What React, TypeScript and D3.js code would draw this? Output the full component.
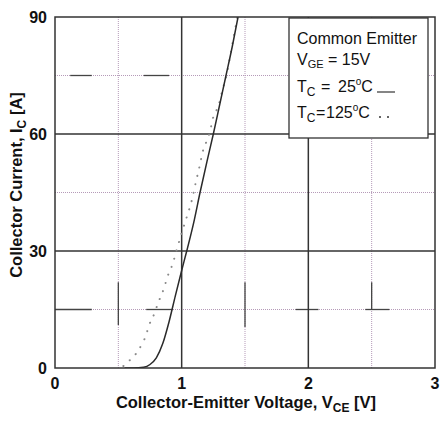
import React from "react";
import * as d3 from "d3";

const xTicks = [0, 1, 2, 3];
const yTicks = [0, 30, 60, 90];
const xMinor = [0.5, 1.5, 2.5];
const yMinor = [15, 45, 75];

// Tc = 25°C (solid)
const v25 = [0.55, 0.62, 0.7, 0.75, 0.8, 0.85, 0.9, 0.95, 1.0, 1.04, 1.1, 1.145, 1.2, 1.25, 1.3, 1.35, 1.4, 1.445];
const i25 = [0, 0, 0.2, 0.9, 2.6, 6.2, 11.8, 18.5, 25, 30, 38, 45, 53, 60, 67.5, 75, 82.5, 90];

// Tc = 125°C (dotted)
const v125 = [0.54, 0.6, 0.65, 0.69, 0.72, 0.74, 0.77, 0.82, 0.85, 0.87, 0.89, 0.92, 0.94, 0.96, 1.0, 1.04, 1.08, 1.11, 1.14, 1.17, 1.2, 1.22, 1.25, 1.29, 1.32, 1.36, 1.4, 1.44];
const i125 = [0.5, 2.3, 4.1, 6.4, 8.5, 10.8, 12.8, 17.2, 19.5, 21.5, 23.6, 25.9, 27.9, 30.2, 34.6, 38.7, 43, 47.4, 51.5, 55.9, 58.4, 60.2, 64.4, 67.2, 71, 76, 83, 90];

// short solid accents on the dotted grid (data units)
const hAccentY = [15, 15, 15, 15, 75, 75];
const hAccentX0 = [0.0, 0.72, 1.9, 2.45, 0.12, 0.7];
const hAccentX1 = [0.29, 0.93, 2.08, 2.64, 0.29, 0.9];
const vAccentX = [0.5, 1.5, 2.5];
const vAccentY0 = [11, 10.5, 15];
const vAccentY1 = [22, 22, 22];

export default function App() {
  const W = 440, H = 421;
  const x = d3.scaleLinear().domain([0, 3]).range([55, 435]);
  const y = d3.scaleLinear().domain([0, 90]).range([368, 17]);

  const line = d3
    .line<[number, number]>()
    .x((d) => x(d[0]))
    .y((d) => y(d[1]))
    .curve(d3.curveMonotoneX);

  const d25 = line(v25.map((v, k) => [v, i25[k]] as [number, number])) || "";
  const d125 = line(v125.map((v, k) => [v, i125[k]] as [number, number])) || "";

  const font = "Arial, 'Liberation Sans', Helvetica, sans-serif";
  const gridDot = "#b59ab8";

  return (
    <svg width={W} height={H} style={{ position: "absolute", left: 0, top: 0, background: "#fff" }} fontFamily={font}>
      <defs>
        <clipPath id="plotclip">
          <rect x={x(0)} y={y(90)} width={x(3) - x(0)} height={y(0) - y(90)} />
        </clipPath>
      </defs>
      {/* minor dotted grid */}
      {xMinor.map((v) => (
        <line key={"xm" + v} x1={x(v)} x2={x(v)} y1={y(0)} y2={y(90)} stroke={gridDot} strokeWidth={1} strokeDasharray="1,1" />
      ))}
      {yMinor.map((v) => (
        <line key={"ym" + v} x1={x(0)} x2={x(3)} y1={y(v)} y2={y(v)} stroke={gridDot} strokeWidth={1} strokeDasharray="1,1" />
      ))}
      {hAccentY.map((v, k) => (
        <line key={"ha" + k} x1={x(hAccentX0[k])} x2={x(hAccentX1[k])} y1={y(v)} y2={y(v)} stroke="#444" strokeWidth={1.3} />
      ))}
      {vAccentX.map((v, k) => (
        <line key={"va" + k} x1={x(v)} x2={x(v)} y1={y(vAccentY0[k])} y2={y(vAccentY1[k])} stroke="#444" strokeWidth={1.3} />
      ))}
      {/* major solid grid */}
      {xTicks.slice(1, -1).map((v) => (
        <line key={"xg" + v} x1={x(v)} x2={x(v)} y1={y(0)} y2={y(90)} stroke="#333" strokeWidth={1.5} />
      ))}
      {yTicks.slice(1, -1).map((v) => (
        <line key={"yg" + v} x1={x(0)} x2={x(3)} y1={y(v)} y2={y(v)} stroke="#333" strokeWidth={1.5} />
      ))}
      {/* curves */}
      <g clipPath="url(#plotclip)">
        <path d={d125} fill="none" stroke="#8a8a8a" strokeWidth={2} strokeLinecap="round" strokeDasharray="0.1,8.5" />
        <path d={d25} fill="none" stroke="#2a2a2a" strokeWidth={1.5} />
      </g>
      {/* frame */}
      <rect x={x(0)} y={y(90)} width={x(3) - x(0)} height={y(0) - y(90)} fill="none" stroke="#333" strokeWidth={1.5} />
      {/* legend */}
      <rect x={289} y={18} width={139} height={120} fill="#fff" stroke="#333" strokeWidth={1.3} />
      <g fontSize={16} fill="#111">
        <text x={297} y={44}>Common Emitter</text>
        <text x={297} y={65}>
          V<tspan fontSize={11} dy={3}>GE</tspan>
          <tspan dy={-3}> = 15V</tspan>
        </text>
        <text x={297} y={92}>
          T<tspan fontSize={12} dy={4}>C</tspan>
          <tspan x={321} dy={-4}>=</tspan>
          <tspan x={338}>25</tspan>
          <tspan fontSize={10} dy={-7}>o</tspan>
          <tspan dy={7}>C</tspan>
        </text>
        <line x1={377} x2={395} y1={92} y2={92} stroke="#333" strokeWidth={1.2} />
        <text x={297} y={118}>
          T<tspan fontSize={12} dy={4}>C</tspan>
          <tspan x={316} dy={-4}>=</tspan>
          <tspan x={326}>125</tspan>
          <tspan fontSize={10} dy={-7}>o</tspan>
          <tspan dy={7}>C</tspan>
        </text>
        <circle cx={380} cy={117} r={1} fill="#333" />
        <circle cx={388} cy={117} r={1} fill="#333" />
      </g>
      {/* tick labels */}
      <g fontSize={16} fontWeight="bold" fill="#111">
        {xTicks.map((v) => (
          <text key={"xt" + v} x={x(v)} y={389} textAnchor="middle">{v}</text>
        ))}
        {yTicks.map((v) => (
          <text key={"yt" + v} x={47} y={y(v) + 6} textAnchor="end">{v}</text>
        ))}
      </g>
      {/* axis titles */}
      <text x={246} y={408} fontSize={16.5} fontWeight="bold" textAnchor="middle" fill="#111">
        Collector-Emitter Voltage, V<tspan fontSize={12} dy={4}>CE</tspan>
        <tspan dy={-4}> [V]</tspan>
      </text>
      <text transform="translate(22,185) rotate(-90)" fontSize={16.5} fontWeight="bold" textAnchor="middle" fill="#111">
        Collector Current, I<tspan fontSize={12} dy={4}>C</tspan>
        <tspan dy={-4}> [A]</tspan>
      </text>
    </svg>
  );
}
